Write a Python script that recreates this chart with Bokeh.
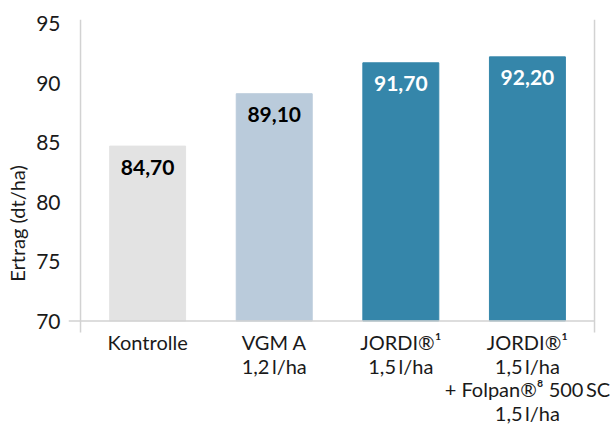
from bokeh.plotting import figure
from bokeh.models import ColumnDataSource, FixedTicker, Range1d
from bokeh.core.properties import value
from bokeh.embed import file_html
from bokeh.resources import INLINE

# --- data ---
categories = ["Kontrolle", "VGM A\n1,2\u2009l/ha", "JORDI®¹\n1,5\u2009l/ha",
              "JORDI®¹\n1,5\u2009l/ha\n+ Folpan®⁸ 500\u2009SC\n1,5\u2009l/ha"]
values = [84.70, 89.10, 91.70, 92.20]
value_labels = ["84,70", "89,10", "91,70", "92,20"]
bar_colors = ["#e3e3e3", "#bacbdb", "#3586aa", "#3586aa"]
label_colors = ["#000000", "#000000", "#ffffff", "#ffffff"]
y_ticks = [70, 75, 80, 85, 90, 95]
y_label = "Ertrag (dt/ha)"
baseline = 70

positions = list(range(1, len(categories) + 1))
FONT = "Lato"

src = ColumnDataSource(dict(x=positions, top=values, color=bar_colors,
                            lab=value_labels, lcol=label_colors,
                            base=[baseline] * len(positions), cat=categories))

y_top = 95.34
y_axis_bottom = 69.03
x_left_line = 0.47
x_right_line = 4.53
p = figure(width=612, height=427, output_backend="svg", toolbar_location=None,
           x_range=Range1d(0.375, 4.672), y_range=Range1d(61.05, y_top),
           min_border_left=68, min_border_right=0, min_border_top=19,
           min_border_bottom=0)

p.vbar(x="x", top="top", bottom=baseline, width=0.6, color="color", source=src)
p.text(x="x", y="top", text="lab", text_color="lcol", source=src,
       text_align="center", text_baseline="middle", y_offset=21,
       text_font=value(FONT), text_font_style="bold", text_font_size="21px")

# category labels under the baseline
p.text(x="x", y="base", text="cat", source=src, text_align="center",
       text_baseline="top", y_offset=9, text_font=value(FONT),
       text_font_size="20px", text_color="#1a1a1a", text_line_height=0.98)

# axis / frame lines
line_col = "#d2d2d2"
p.segment(x0=[p.x_range.start], x1=[x_right_line], y0=[baseline], y1=[baseline],
          line_color=line_col, line_width=1.5)
p.segment(x0=[x_left_line, x_right_line], x1=[x_left_line, x_right_line],
          y0=[y_axis_bottom] * 2, y1=[y_top] * 2, line_color=line_col, line_width=1.5)

p.grid.visible = False
p.outline_line_color = None
p.xaxis.visible = False

ya = p.yaxis[0]
ya.ticker = FixedTicker(ticks=y_ticks)
ya.axis_line_color = None
ya.major_tick_line_color = None
ya.minor_tick_line_color = None
ya.major_label_text_font = FONT
ya.major_label_text_font_size = "21px"
ya.major_label_text_color = "#1a1a1a"
ya.major_label_standoff = 2
ya.axis_label = y_label
ya.axis_label_text_font = FONT
ya.axis_label_text_font_style = "normal"
ya.axis_label_text_font_size = "20px"
ya.axis_label_text_color = "#1a1a1a"
ya.axis_label_standoff = 4

p.background_fill_color = "white"
p.border_fill_color = "white"

open("out.html", "w").write(file_html(p, INLINE))
